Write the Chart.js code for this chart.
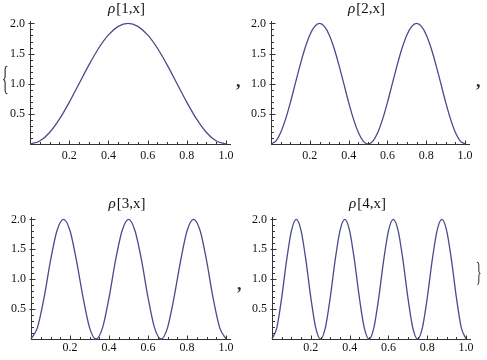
<!DOCTYPE html>
<html>
<head>
<meta charset="utf-8">
<script src="https://cdn.jsdelivr.net/npm/chart.js@4/dist/chart.umd.min.js"></script>
<style>
    body { margin: 0; background: #fff; }
    #wrap { position: relative; width: 487px; height: 360px; overflow: hidden; font-family: 'Liberation Serif', serif; }
    canvas { position: absolute; }
    .mark { position: absolute; color: #333; line-height: 1; }
</style>
</head>
<body>
<div id="wrap">
    <canvas id="p1" width="243" height="180" style="left:0;top:0"></canvas>
    <canvas id="p2" width="244" height="180" style="left:243px;top:0"></canvas>
    <canvas id="p3" width="243" height="180" style="left:0;top:180px"></canvas>
    <canvas id="p4" width="244" height="180" style="left:243px;top:180px"></canvas>
    <div class="mark" style="left:-3px;top:61px;font-size:34px;transform:scaleX(0.42)">{</div>
    <div class="mark" style="left:236px;top:72px;font-size:18px;font-weight:bold">,</div>
    <div class="mark" style="left:476px;top:72px;font-size:18px;font-weight:bold">,</div>
    <div class="mark" style="left:237px;top:275px;font-size:18px;font-weight:bold">,</div>
    <div class="mark" style="left:472px;top:258px;font-size:28px;transform:scaleX(0.45)">}</div>
</div>
<script>
// values
const modeNumbers = [1, 2, 3, 4];
const xTicks = [0, 0.2, 0.4, 0.6, 0.8, 1.0];
const yTicks = [0, 0.5, 1.0, 1.5, 2.0];

const x1 = [0, 0.05, 0.1, 0.15, 0.2, 0.25, 0.3, 0.35, 0.4, 0.45, 0.5, 0.55, 0.6, 0.65, 0.7, 0.75, 0.8, 0.85, 0.9, 0.95, 1.0];
const y1 = [0, 0.049, 0.191, 0.412, 0.691, 1.0, 1.309, 1.588, 1.809, 1.951, 2.0, 1.951, 1.809, 1.588, 1.309, 1.0, 0.691, 0.412, 0.191, 0.049, 0];

const x2 = [0, 0.025, 0.05, 0.075, 0.1, 0.125, 0.15, 0.175, 0.2, 0.225, 0.25, 0.275, 0.3, 0.325, 0.35, 0.375, 0.4, 0.425, 0.45, 0.475, 0.5,
    0.525, 0.55, 0.575, 0.6, 0.625, 0.65, 0.675, 0.7, 0.725, 0.75, 0.775, 0.8, 0.825, 0.85, 0.875, 0.9, 0.925, 0.95, 0.975, 1.0];
const y2 = [0, 0.049, 0.191, 0.412, 0.691, 1.0, 1.309, 1.588, 1.809, 1.951, 2.0, 1.951, 1.809, 1.588, 1.309, 1.0, 0.691, 0.412, 0.191, 0.049, 0,
    0.049, 0.191, 0.412, 0.691, 1.0, 1.309, 1.588, 1.809, 1.951, 2.0, 1.951, 1.809, 1.588, 1.309, 1.0, 0.691, 0.412, 0.191, 0.049, 0];

const x3 = [0, 0.033, 0.067, 0.1, 0.133, 0.167, 0.2, 0.233, 0.267, 0.3, 0.333, 0.367, 0.4, 0.433, 0.467, 0.5,
    0.533, 0.567, 0.6, 0.633, 0.667, 0.7, 0.733, 0.767, 0.8, 0.833, 0.867, 0.9, 0.933, 0.967, 1.0];
const y3 = [0, 0.191, 0.691, 1.309, 1.809, 2.0, 1.809, 1.309, 0.691, 0.191, 0,
    0.191, 0.691, 1.309, 1.809, 2.0, 1.809, 1.309, 0.691, 0.191, 0,
    0.191, 0.691, 1.309, 1.809, 2.0, 1.809, 1.309, 0.691, 0.191, 0];

const x4 = x2;
const y4 = [0, 0.191, 0.691, 1.309, 1.809, 2.0, 1.809, 1.309, 0.691, 0.191, 0,
    0.191, 0.691, 1.309, 1.809, 2.0, 1.809, 1.309, 0.691, 0.191, 0,
    0.191, 0.691, 1.309, 1.809, 2.0, 1.809, 1.309, 0.691, 0.191, 0,
    0.191, 0.691, 1.309, 1.809, 2.0, 1.809, 1.309, 0.691, 0.191, 0];

const curveColor = '#4a4a8c';
const axisColor = '#333';
const labelColor = '#111';
const tickFont = { family: "'Liberation Serif', serif", size: 12 };
const xMinorStep = 0.05;
const yMinorStep = 0.1;

// minor/major ticks pointing into the plot, plus the rho[n,x] title
const panelPlugin = {
    id: 'panelPlugin',
    afterDraw(chart, args, opts) {
        const ctx = chart.ctx;
        const xs = chart.scales.x;
        const ys = chart.scales.y;
        const ox = Math.round(xs.getPixelForValue(0)) + 0.5;
        const oy = Math.round(ys.getPixelForValue(0)) + 0.5;
        ctx.save();
        ctx.strokeStyle = axisColor;
        ctx.lineWidth = 1;
        ctx.beginPath();
        for (let k = 1; k <= 20; k++) {
            const px = Math.round(xs.getPixelForValue(k * xMinorStep)) + 0.5;
            const len = k % 4 == 0 ? 4 : 2.5;
            ctx.moveTo(px, oy);
            ctx.lineTo(px, oy - len);
        }
        for (let k = 1; k <= 20; k++) {
            const py = Math.round(ys.getPixelForValue(k * yMinorStep)) + 0.5;
            if (k % 5 == 0) {
                ctx.moveTo(ox - 2, py);
                ctx.lineTo(ox + 4, py);
            } else {
                ctx.moveTo(ox, py);
                ctx.lineTo(ox + 2.5, py);
            }
        }
        ctx.stroke();

        // title
        const head = '\u03C1';
        const tail = '[' + opts.n + ',x]';
        ctx.fillStyle = '#111';
        ctx.textBaseline = 'middle';
        ctx.font = "italic 15px 'Liberation Serif', serif";
        const w1 = ctx.measureText(head).width;
        ctx.font = "15px 'Liberation Serif', serif";
        const w2 = ctx.measureText(tail).width;
        const cx = (xs.getPixelForValue(0) + xs.getPixelForValue(1)) / 2 - 2;
        const left = cx - (w1 + w2) / 2;
        ctx.font = "italic 15px 'Liberation Serif', serif";
        ctx.fillText(head, left, opts.titleY);
        ctx.font = "15px 'Liberation Serif', serif";
        ctx.fillText(tail, left + w1 + 1, opts.titleY);
        ctx.restore();
    }
};

function RenderPanel(canvasId, n, xValues, yValues, box) {
    new Chart(document.getElementById(canvasId), {
        type: 'line',
        data: {
            datasets: [{
                data: xValues.map((x, i) => ({ x: x, y: yValues[i] })),
                borderColor: curveColor,
                borderWidth: 1.3,
                pointRadius: 0,
                fill: false,
                cubicInterpolationMode: 'monotone',
                clip: 5
            }]
        },
        options: {
            responsive: false,
            animation: false,
            layout: {
                padding: { left: 0, top: box.top, right: box.right, bottom: 0 }
            },
            scales: {
                x: {
                    type: 'linear',
                    min: 0,
                    max: 1.02,
                    afterBuildTicks: s => { s.ticks = xTicks.map(v => ({ value: v })); },
                    afterFit: s => { s.height = box.xHeight; },
                    grid: { display: false, drawTicks: false },
                    border: { display: true, color: axisColor, width: 1 },
                    ticks: {
                        padding: box.xPad,
                        maxRotation: 0,
                        autoSkip: false,
                        color: labelColor,
                        font: tickFont,
                        callback: v => v == 0 ? '' : v.toFixed(1)
                    }
                },
                y: {
                    type: 'linear',
                    min: 0,
                    max: 2.04,
                    afterBuildTicks: s => { s.ticks = yTicks.map(v => ({ value: v })); },
                    afterFit: s => { s.width = box.yWidth; },
                    grid: { display: false, drawTicks: false },
                    border: { display: true, color: axisColor, width: 1 },
                    ticks: {
                        padding: box.yPad,
                        autoSkip: false,
                        color: labelColor,
                        font: tickFont,
                        callback: v => v == 0 ? '' : v.toFixed(1)
                    }
                }
            },
            plugins: {
                legend: { display: false },
                tooltip: { enabled: false },
                panelPlugin: { n: n, titleY: box.titleY }
            }
        },
        plugins: [panelPlugin]
    });
}

RenderPanel('p1', modeNumbers[0], x1, y1, { top: 21, right: 13, xHeight: 36, yWidth: 30, xPad: 5, yPad: 5, titleY: 9 });
RenderPanel('p2', modeNumbers[1], x2, y2, { top: 21, right: 18, xHeight: 36, yWidth: 28, xPad: 5, yPad: 5, titleY: 9 });
RenderPanel('p3', modeNumbers[2], x3, y3, { top: 37, right: 13, xHeight: 21, yWidth: 31, xPad: 2, yPad: 5, titleY: 24 });
RenderPanel('p4', modeNumbers[3], x4, y4, { top: 37, right: 17, xHeight: 21, yWidth: 29, xPad: 2, yPad: 5, titleY: 24 });
</script>
</body>
</html>
